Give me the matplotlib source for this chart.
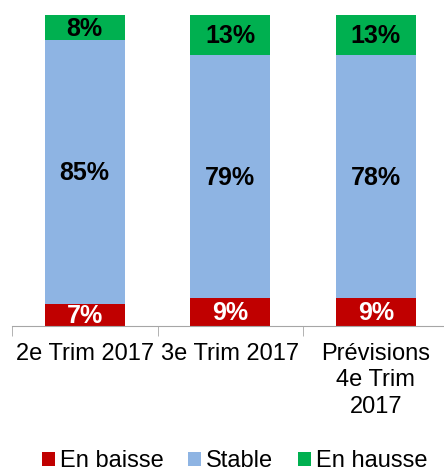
import numpy as np
import matplotlib.pyplot as plt

categories = ['2e Trim 2017', '3e Trim 2017', 'Prévisions\n4e Trim\n2017']
en_baisse = [7, 9, 9]
stable = [85, 79, 78]
en_hausse = [8, 13, 13]

series = [('En baisse', en_baisse, '#C00000', 'white'),
          ('Stable', stable, '#8EB4E3', 'black'),
          ('En hausse', en_hausse, '#00B050', 'black')]

plt.rcParams['font.family'] = ['Liberation Sans', 'DejaVu Sans']

fig = plt.figure(figsize=(4.44, 4.72), dpi=100)
ax = fig.add_axes([12 / 444, 1 - 326 / 472, 436.5 / 444, 311 / 472])

x = np.arange(len(categories))
totals = np.sum([s[1] for s in series], axis=0)
bottom = np.zeros(len(categories))
for name, vals, col, tcol in series:
    frac = np.array(vals) / totals
    ax.bar(x, frac, 0.55, bottom=bottom, color=col, label=name)
    for xi, b, f, v in zip(x, bottom, frac, vals):
        ax.text(xi, b + f / 2 - 0.004, f'{v}%', ha='center', va='center',
                fontsize=18, fontweight='bold', color=tcol)
    bottom += frac

ax.set_xlim(-0.5, 2.5)
ax.set_ylim(0, 1)
ax.set_yticks([])
for sp in ['top', 'right', 'left']:
    ax.spines[sp].set_visible(False)
ax.spines['bottom'].set_color('#A6A6A6')
ax.set_xticks(x)
ax.set_xticklabels(categories, fontsize=17, linespacing=1.28)
ax.tick_params(axis='x', which='major', length=0, pad=12)
ax.set_xticks([-0.5, 0.5, 1.5, 2.5], minor=True)
ax.tick_params(axis='x', which='minor', length=7, color='#A6A6A6')

fig.legend(loc='center left', bbox_to_anchor=(42 / 444, 1 - 461 / 472), ncol=3,
           frameon=False, fontsize=17, handlelength=0.55, handleheight=0.55,
           handletextpad=0.2, columnspacing=1.05, borderpad=0, borderaxespad=0)

fig.savefig('out.png', dpi=100)
